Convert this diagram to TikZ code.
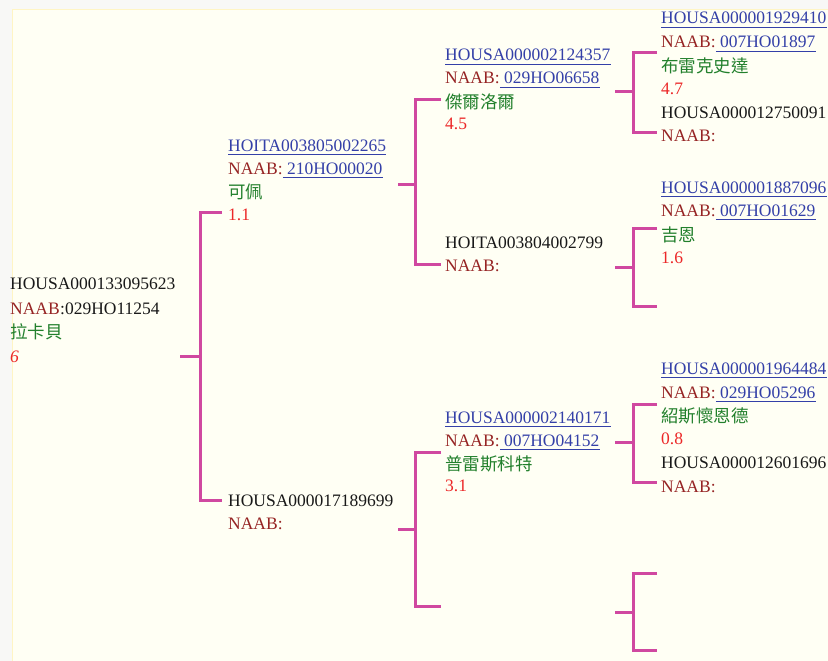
\documentclass[tikz,border=0pt]{standalone}
\usepackage{fontspec}
\setmainfont{Liberation Serif}
\newfontfamily\cjk{Noto Sans CJK TC}
\definecolor{brk}{RGB}{208,72,160}
\definecolor{lnk}{RGB}{52,64,168}
\definecolor{naabc}{RGB}{150,36,36}
\definecolor{nmc}{RGB}{34,128,44}
\definecolor{scc}{RGB}{236,40,40}
\definecolor{txc}{RGB}{25,25,25}
\definecolor{bgin}{RGB}{255,255,244}
\definecolor{bgout}{RGB}{248,248,246}
\definecolor{edgec}{RGB}{255,245,196}
\tikzset{
 tt/.style={inner sep=0pt, anchor=base west, font=\fontsize{17.5}{20}\selectfont},
 plain/.style={tt, text=txc},
 link/.style={tt, text=lnk},
 naabt/.style={tt, text=naabc},
 namet/.style={tt, text=nmc, font=\fontsize{17.5}{20}\selectfont\cjk},
 scoret/.style={tt, text=scc},
 ul/.style={draw=lnk, line width=1.1pt},
 brkt/.style={draw=brk, line width=3pt, line cap=butt, line join=miter},
}
\newcommand\ulnode[1]{\draw[ul] ([yshift=-3.5pt]#1.base west) -- ([yshift=-3.5pt]#1.base east);}
% bracket: name, stub start x, vertical x, arm end x, top y, mid y, bottom y
\newcommand\brak[7]{%
 \coordinate (#1s) at (#2,#6);
 \coordinate (#1m) at (#3,#6);
 \coordinate (#1t) at (#4,#5);
 \coordinate (#1b) at (#4,#7);
 \draw[brkt] (#1t) -- (#3,#5) -- (#3,#7) -- (#1b);
 \draw[brkt] (#1s) -- (#1m);
}
\begin{document}
\begin{tikzpicture}[x=1pt,y=-1pt]
\useasboundingbox (0,0) rectangle (828,661);
\clip (0,0) rectangle (828,661);
\fill[bgout] (0,0) rectangle (828,661);
\filldraw[fill=bgin, draw=edgec, line width=1.5pt] (12.5,9.5) rectangle (840,680);

% brackets
\brak{ba}{180}{200}{222}{212}{356}{500}
\brak{bb}{398}{415}{441}{100}{184}{264}
\brak{bc}{398}{415}{441}{452}{529}{606}
\brak{bd}{615}{633}{657}{53}{92}{132}
\brak{be}{615}{633}{657}{228}{267}{306}
\brak{bf}{615}{633}{657}{404}{442}{482}
\brak{bg}{615}{633}{657}{573}{612}{650}

% root
\node[plain] (r1) at (10,289) {HOUSA000133095623};
\node[naabt] (r2) at (10,314) {NAAB};
\node[plain] (r2n) at (r2.base east) {:029HO11254};
\node[namet] (r3) at (10,338) {拉卡貝};
\node[scoret, font=\fontsize{17.5}{20}\selectfont\itshape] (r4) at (10,362) {6};

% A: sire
\node[link] (a1) at (228,151) {HOITA003805002265}; \ulnode{a1}
\node[naabt] (a2) at (228,174) {NAAB:};
\node[link] (a2n) at (a2.base east) {\hspace{4pt}210HO00020}; \ulnode{a2n}
\node[namet] (a3) at (228,198) {可佩};
\node[scoret] (a4) at (228,220) {1.1};

% B: dam
\node[plain] (b1) at (228,506) {HOUSA000017189699};
\node[naabt] (b2) at (228,529) {NAAB:};

% C
\node[link] (c1) at (445,61) {HOUSA000002124357}; \ulnode{c1}
\node[naabt] (c2) at (445,84) {NAAB:};
\node[link] (c2n) at (c2.base east) {\hspace{4pt}029HO06658}; \ulnode{c2n}
\node[namet] (c3) at (445,108) {傑爾洛爾};
\node[scoret] (c4) at (445,129) {4.5};

% D
\node[plain] (d1) at (445,248) {HOITA003804002799};
\node[naabt] (d2) at (445,271) {NAAB:};

% E
\node[link] (e1) at (445,423) {HOUSA000002140171}; \ulnode{e1}
\node[naabt] (e2) at (445,446) {NAAB:};
\node[link] (e2n) at (e2.base east) {\hspace{4pt}007HO04152}; \ulnode{e2n}
\node[namet] (e3) at (445,470) {普雷斯科特};
\node[scoret] (e4) at (445,491) {3.1};

% F
\node[link] (f1) at (661,24) {HOUSA000001929410}; \ulnode{f1}
\node[naabt] (f2) at (661,48) {NAAB:};
\node[link] (f2n) at (f2.base east) {\hspace{4pt}007HO01897}; \ulnode{f2n}
\node[namet] (f3) at (661,73) {布雷克史達};
\node[scoret] (f4) at (661,95) {4.7};

% G
\node[plain] (g1) at (661,118) {HOUSA000012750091};
\node[naabt] (g2) at (661,142) {NAAB:};

% H
\node[link] (h1) at (661,193) {HOUSA000001887096}; \ulnode{h1}
\node[naabt] (h2) at (661,216) {NAAB:};
\node[link] (h2n) at (h2.base east) {\hspace{4pt}007HO01629}; \ulnode{h2n}
\node[namet] (h3) at (661,241) {吉恩};
\node[scoret] (h4) at (661,263) {1.6};

% I
\node[link] (i1) at (661,374) {HOUSA000001964484}; \ulnode{i1}
\node[naabt] (i2) at (661,398) {NAAB:};
\node[link] (i2n) at (i2.base east) {\hspace{4pt}029HO05296}; \ulnode{i2n}
\node[namet] (i3) at (661,422) {紹斯懷恩德};
\node[scoret] (i4) at (661,444) {0.8};

% J
\node[plain] (j1) at (661,468) {HOUSA000012601696};
\node[naabt] (j2) at (661,492) {NAAB:};
\end{tikzpicture}
\end{document}
